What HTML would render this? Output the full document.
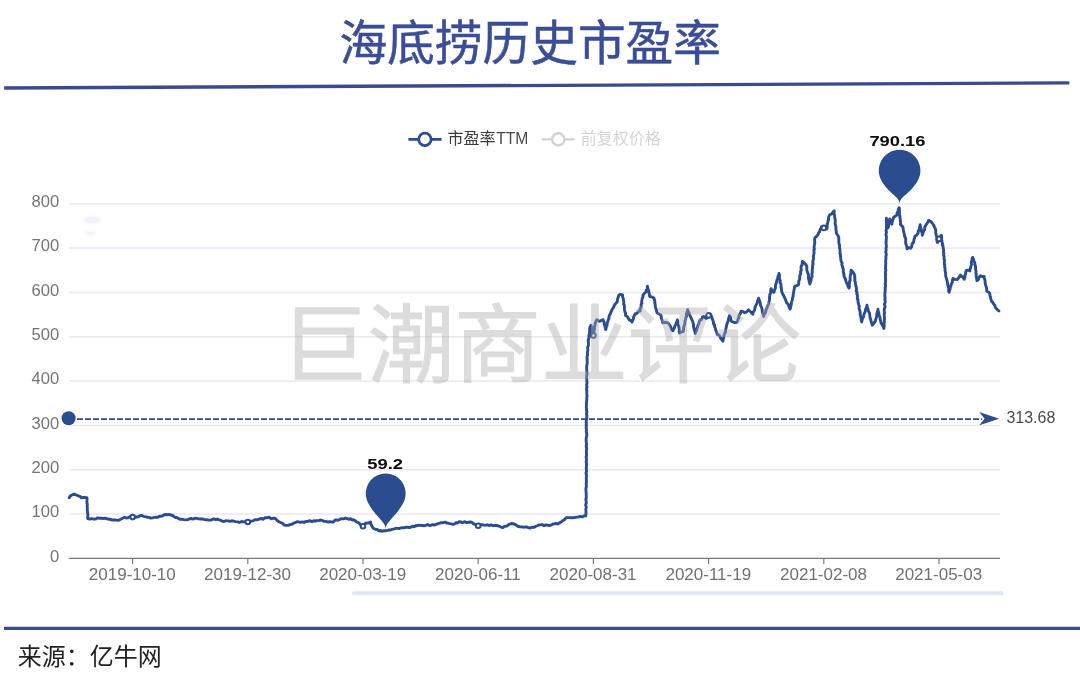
<!DOCTYPE html>
<html lang="zh"><head><meta charset="utf-8"><title>海底捞历史市盈率</title>
<style>html,body{margin:0;padding:0;background:#fff;}body{width:1080px;height:685px;overflow:hidden;font-family:"Liberation Sans",sans-serif;}svg{display:block}</style>
</head><body>
<svg width="1080" height="685" viewBox="0 0 1080 685">
<title>海底捞历史市盈率</title>
<desc>海底捞历史市盈率 市盈率TTM 前复权价格 巨潮商业评论 来源：亿牛网</desc>
<rect width="1080" height="685" fill="#fff"/>
<g opacity="0.999">
<g fill="#3a4d96" stroke="#3a4d96" stroke-width="0.5">
<text x="339.5" y="59.9" font-family="Liberation Sans, Noto Sans CJK SC, sans-serif" font-size="47.7" textLength="381.5" lengthAdjust="spacingAndGlyphs">海底捞历史市盈率</text>
</g>
<line x1="4.1" y1="88" x2="1069.3" y2="82.9" stroke="#3b4a8f" stroke-width="3.4"/>
<line x1="4" y1="628.4" x2="1080" y2="628.4" stroke="#3b4a8f" stroke-width="3.4"/>
<line x1="69" y1="514.1" x2="1000" y2="514.1" stroke="#e7e9f4" stroke-width="1.5"/>
<line x1="69" y1="469.7" x2="1000" y2="469.7" stroke="#e7e9f4" stroke-width="1.5"/>
<line x1="69" y1="425.4" x2="1000" y2="425.4" stroke="#e7e9f4" stroke-width="1.5"/>
<line x1="69" y1="381.1" x2="1000" y2="381.1" stroke="#e7e9f4" stroke-width="1.5"/>
<line x1="69" y1="336.8" x2="1000" y2="336.8" stroke="#e7e9f4" stroke-width="1.5"/>
<line x1="69" y1="292.4" x2="1000" y2="292.4" stroke="#e7e9f4" stroke-width="1.5"/>
<line x1="69" y1="248.1" x2="1000" y2="248.1" stroke="#e7e9f4" stroke-width="1.5"/>
<line x1="69" y1="203.8" x2="1000" y2="203.8" stroke="#e7e9f4" stroke-width="1.5"/>
<line x1="68.8" y1="558.4" x2="1000" y2="558.4" stroke="#767981" stroke-width="1.3"/>
<line x1="132.6" y1="558.4" x2="132.6" y2="563.9" stroke="#767981" stroke-width="1.2"/>
<line x1="247.8" y1="558.4" x2="247.8" y2="563.9" stroke="#767981" stroke-width="1.2"/>
<line x1="363.0" y1="558.4" x2="363.0" y2="563.9" stroke="#767981" stroke-width="1.2"/>
<line x1="478.2" y1="558.4" x2="478.2" y2="563.9" stroke="#767981" stroke-width="1.2"/>
<line x1="593.4" y1="558.4" x2="593.4" y2="563.9" stroke="#767981" stroke-width="1.2"/>
<line x1="708.6" y1="558.4" x2="708.6" y2="563.9" stroke="#767981" stroke-width="1.2"/>
<line x1="823.8" y1="558.4" x2="823.8" y2="563.9" stroke="#767981" stroke-width="1.2"/>
<line x1="939.0" y1="558.4" x2="939.0" y2="563.9" stroke="#767981" stroke-width="1.2"/>
<g font-family="Liberation Sans, sans-serif" font-size="16.6" fill="#757575" text-anchor="end">
<text x="59.2" y="561.7">0</text>
<text x="59.2" y="517.4">100</text>
<text x="59.2" y="473.0">200</text>
<text x="59.2" y="428.7">300</text>
<text x="59.2" y="384.4">400</text>
<text x="59.2" y="340.1">500</text>
<text x="59.2" y="295.7">600</text>
<text x="59.2" y="251.4">700</text>
<text x="59.2" y="207.1">800</text>
</g>
<g font-family="Liberation Sans, sans-serif" font-size="17" fill="#717171" text-anchor="middle">
<text x="132.3" y="580.3">2019-10-10</text>
<text x="247.5" y="580.3">2019-12-30</text>
<text x="362.7" y="580.3">2020-03-19</text>
<text x="477.9" y="580.3">2020-06-11</text>
<text x="593.1" y="580.3">2020-08-31</text>
<text x="708.3" y="580.3">2020-11-19</text>
<text x="823.5" y="580.3">2021-02-08</text>
<text x="938.7" y="580.3">2021-05-03</text>
</g>
<defs><filter id="bl" x="-50%" y="-50%" width="200%" height="200%"><feGaussianBlur stdDeviation="1.6"/></filter></defs>
<ellipse cx="92" cy="220" rx="9" ry="3.5" fill="#eff1f8" filter="url(#bl)"/>
<ellipse cx="90" cy="233" rx="6" ry="1.6" fill="#efefef" filter="url(#bl)"/>
<rect x="352" y="591.3" width="651.5" height="4" rx="2" fill="#dfe7f5"/>
<g stroke="#2b4c8f" stroke-width="2.8" fill="#fff"><line x1="408.4" y1="139.4" x2="441.5" y2="139.4"/><circle cx="424.9" cy="139.4" r="6.2"/></g>
<text x="447.6" y="144.0" font-family="Liberation Sans, Noto Sans CJK SC, sans-serif" font-size="16" fill="#3a3a3a" textLength="48" lengthAdjust="spacingAndGlyphs">市盈率</text>
<text x="496.2" y="144.0" font-family="Liberation Sans, sans-serif" font-size="16.5" fill="#484848" textLength="32.2" lengthAdjust="spacingAndGlyphs">TTM</text>
<g stroke="#d2d2d2" stroke-width="2.4" fill="#fff"><line x1="541.7" y1="139.4" x2="574.7" y2="139.4"/><circle cx="558.3" cy="139.4" r="6.1"/></g>
<text x="580.8" y="144.0" font-family="Liberation Sans, Noto Sans CJK SC, sans-serif" font-size="16" fill="#d4d4d4" textLength="80" lengthAdjust="spacingAndGlyphs">前复权价格</text>
<line x1="69" y1="419.1" x2="982" y2="419.1" stroke="#2b4c8f" stroke-width="1.9" stroke-dasharray="6 2"/>
<circle cx="68.6" cy="418.3" r="7" fill="#2b4c8f"/>
<path d="M999.2 418.7 L979.2 412.1 L984.6 418.7 L979.2 425.3 Z" fill="#2b4c8f"/>
<text x="1006.4" y="422.9" font-family="Liberation Sans, sans-serif" font-size="16" fill="#4a4a4a">313.68</text>
<path d="M69.3 497.8 L70.3 496.0 L71.5 495.2 L73.9 494.0 L76.5 495.0 L78.5 496.0 L80.0 496.3 L81.3 497.8 L84.0 497.4 L86.9 497.8 L87.1 499.4 L86.8 501.4 L87.0 503.1 L87.4 505.0 L87.1 506.1 L87.4 508.8 L87.2 509.7 L87.6 512.4 L87.6 513.3 L87.9 514.5 L87.8 516.5 L87.6 518.5 L89.6 519.0 L91.6 518.6 L94.0 519.2 L95.9 518.9 L98.0 517.8 L99.4 518.2 L101.4 518.2 L103.0 518.6 L104.7 518.1 L106.0 518.5 L108.0 519.0 L109.8 519.2 L111.2 519.8 L113.0 520.0 L115.2 519.9 L117.4 520.4 L119.4 520.0 L121.0 519.0 L122.7 518.2 L124.8 517.2 L126.4 518.0 L128.0 517.8 L129.8 516.8 L131.3 516.3 L134.0 518.0 L136.2 516.8 L137.7 517.1 L139.4 516.0 L141.5 515.4 L143.4 516.3 L146.0 516.8 L147.8 517.3 L149.4 517.4 L150.7 518.1 L152.6 517.9 L154.3 517.4 L156.0 517.2 L157.8 517.4 L159.1 516.5 L160.3 516.2 L162.3 516.1 L163.7 515.0 L165.8 514.5 L167.4 514.8 L169.3 514.4 L170.5 515.0 L172.2 515.3 L174.0 516.5 L175.2 517.5 L176.7 517.5 L178.5 518.5 L180.3 519.4 L181.9 519.2 L184.0 519.6 L185.9 519.9 L188.0 519.6 L189.5 518.7 L191.5 518.5 L193.2 519.1 L195.5 518.2 L196.8 518.4 L198.7 518.9 L200.7 519.0 L202.6 518.9 L204.0 519.4 L206.1 519.8 L208.0 520.0 L210.2 520.1 L211.8 519.8 L213.8 518.8 L215.8 519.6 L217.4 519.0 L219.3 520.0 L220.6 520.1 L222.0 521.1 L223.9 521.5 L225.6 520.8 L227.8 520.9 L230.0 521.3 L231.8 520.8 L233.6 521.1 L235.6 521.6 L237.8 521.9 L239.3 522.5 L241.6 521.5 L243.1 521.9 L245.1 521.6 L247.0 522.2 L249.2 522.4 L251.0 521.2 L253.0 520.8 L255.0 519.7 L257.6 519.7 L259.4 519.0 L261.6 518.5 L262.9 519.2 L265.1 517.7 L267.0 517.8 L269.0 517.2 L270.9 518.7 L273.0 518.4 L274.7 518.2 L276.0 519.1 L277.3 520.7 L279.0 521.8 L280.4 522.5 L282.1 523.1 L284.4 525.1 L286.0 525.4 L288.2 525.4 L290.0 524.6 L292.1 524.2 L293.5 523.2 L295.5 522.5 L297.0 521.7 L298.5 521.9 L300.3 522.4 L302.4 521.9 L304.0 522.5 L305.7 521.5 L307.0 521.6 L308.5 521.0 L310.1 520.8 L312.0 521.6 L313.8 520.8 L315.4 521.0 L316.6 520.6 L318.8 520.6 L320.2 520.0 L322.3 520.4 L323.8 521.3 L326.0 521.4 L327.7 522.0 L330.1 521.7 L331.6 522.0 L333.1 522.1 L334.9 520.4 L336.0 519.9 L338.2 520.2 L339.2 519.7 L341.0 518.7 L342.9 518.9 L344.1 518.8 L345.5 518.0 L347.7 518.9 L349.0 519.3 L350.6 518.7 L352.1 520.0 L353.9 519.8 L355.0 520.7 L356.5 521.9 L358.2 522.5 L359.6 523.7 L361.1 525.6 L363.0 526.3 L364.4 524.6 L366.0 523.0 L368.3 523.1 L370.5 522.0 L371.1 524.6 L371.8 526.0 L373.3 528.2 L375.2 529.2 L377.1 529.4 L379.0 531.0 L380.6 530.5 L382.0 531.3 L383.8 530.7 L385.7 530.7 L387.6 530.4 L389.0 530.0 L390.8 530.0 L392.2 529.3 L394.2 528.8 L395.7 528.3 L397.6 528.4 L399.1 528.5 L401.0 527.9 L402.4 527.7 L404.0 527.8 L405.6 527.3 L407.3 527.1 L409.0 527.5 L410.8 527.2 L412.7 526.1 L414.1 526.9 L416.0 525.5 L417.2 525.7 L418.8 525.2 L420.8 525.4 L422.2 525.5 L424.4 525.7 L425.6 525.4 L427.7 524.5 L429.5 525.5 L430.7 525.4 L432.6 524.6 L434.7 525.0 L436.0 524.4 L437.6 523.8 L439.8 523.2 L441.4 522.7 L443.5 522.5 L445.2 522.1 L446.7 523.0 L447.9 523.1 L449.9 523.6 L451.4 523.9 L452.7 524.3 L454.8 523.9 L455.9 522.6 L457.4 523.0 L459.2 521.8 L460.9 522.0 L462.7 522.6 L464.9 521.7 L466.4 522.6 L468.5 522.3 L470.4 522.0 L471.9 522.4 L474.0 524.0 L476.1 524.8 L478.0 525.8 L479.7 525.8 L482.0 524.6 L483.9 525.1 L485.3 525.2 L487.4 524.8 L489.0 525.5 L491.2 524.9 L493.1 525.8 L495.0 525.4 L496.7 525.5 L498.8 526.2 L500.4 526.7 L502.6 527.7 L504.5 526.4 L507.0 526.0 L508.3 524.9 L510.0 524.0 L511.2 523.5 L512.9 523.7 L514.4 524.2 L516.0 524.9 L517.8 526.3 L520.0 526.7 L521.7 526.9 L524.0 527.2 L526.1 526.8 L527.7 527.4 L529.2 528.0 L531.0 527.7 L532.5 527.2 L534.2 527.3 L535.5 526.5 L537.3 525.7 L538.7 525.0 L540.5 524.9 L542.2 524.6 L544.1 525.6 L546.1 524.8 L548.2 525.4 L549.5 525.5 L551.7 524.9 L552.9 524.0 L554.5 523.9 L556.0 523.5 L557.7 523.9 L559.5 522.9 L561.6 521.8 L563.0 520.5 L564.4 519.8 L566.2 517.8 L567.7 517.6 L569.2 517.6 L571.1 517.8 L572.8 517.8 L574.5 517.6 L576.3 517.1 L578.2 517.1 L580.1 516.4 L582.3 516.9 L583.9 516.0 L585.8 515.9 L585.9 514.3 L586.0 512.9 L586.0 511.5 L585.8 509.1 L586.3 507.3 L586.1 506.3 L585.6 504.9 L586.3 503.0 L586.2 501.7 L585.8 499.6 L586.1 498.4 L586.3 496.8 L586.2 495.2 L586.2 493.3 L586.0 490.8 L585.9 489.6 L585.9 488.6 L586.3 486.7 L586.3 485.1 L586.2 482.6 L586.5 482.0 L586.3 480.0 L586.3 478.4 L586.4 476.1 L586.5 474.8 L586.0 473.2 L586.5 471.5 L586.5 470.9 L586.3 468.5 L586.3 467.3 L586.5 465.6 L586.5 463.2 L586.1 461.8 L586.5 460.3 L586.4 458.2 L586.1 457.0 L586.5 455.9 L586.5 453.8 L586.4 452.4 L586.4 450.3 L586.7 448.8 L586.7 448.2 L586.1 445.9 L586.6 445.0 L586.4 442.4 L586.2 441.7 L586.2 439.6 L586.2 437.9 L586.8 435.7 L586.7 434.6 L586.7 433.3 L586.3 431.9 L586.5 429.1 L586.1 428.1 L586.4 426.2 L586.2 424.6 L586.4 423.7 L586.1 422.0 L586.5 420.0 L586.7 417.9 L586.8 417.1 L586.8 414.9 L586.4 413.4 L586.9 412.1 L586.5 410.2 L586.4 408.1 L586.3 407.6 L586.4 406.1 L586.4 403.5 L586.6 401.8 L586.5 401.3 L586.9 399.5 L586.7 398.0 L587.0 395.9 L586.8 393.6 L586.8 392.5 L586.9 391.2 L586.5 388.7 L587.0 387.2 L586.7 385.9 L586.6 384.9 L587.1 382.6 L586.8 381.0 L586.8 379.5 L586.5 377.6 L586.6 377.0 L586.8 374.4 L587.1 373.9 L586.8 371.1 L586.8 370.0 L586.6 367.8 L586.8 366.2 L586.8 364.8 L587.1 364.0 L587.3 361.7 L587.1 360.2 L587.2 358.3 L587.0 356.6 L587.7 354.7 L587.4 353.8 L587.5 352.0 L587.9 349.9 L587.6 348.2 L587.8 346.8 L588.4 345.7 L588.4 342.8 L588.3 341.8 L588.2 340.3 L588.9 338.2 L588.9 335.7 L589.0 335.2 L589.5 333.3 L589.7 330.6 L589.6 329.2 L590.0 326.8 L591.0 325.3 L591.4 327.3 L592.1 329.2 L592.4 331.0 L592.6 332.5 L592.8 334.6 L593.5 336.0 L593.5 334.9 L594.0 332.4 L593.9 330.6 L594.5 329.6 L594.3 327.0 L594.8 326.1 L595.0 324.3 L595.6 322.4 L596.3 320.5 L596.9 319.7 L599.5 321.4 L601.2 320.5 L603.1 319.7 L603.9 321.6 L604.2 323.0 L604.2 324.3 L605.2 326.6 L605.1 327.3 L605.7 329.6 L606.1 328.3 L606.5 326.1 L607.1 325.5 L607.2 322.7 L607.6 321.7 L608.3 319.8 L608.8 319.0 L609.0 316.7 L609.4 315.5 L610.5 313.6 L611.1 311.8 L611.5 310.9 L612.4 308.9 L613.3 307.9 L614.5 305.2 L615.4 303.9 L616.7 302.4 L617.4 301.2 L617.6 298.6 L618.1 297.5 L618.9 295.0 L620.5 294.4 L622.6 295.0 L622.5 296.6 L623.4 299.0 L623.5 300.8 L623.9 301.6 L623.6 304.2 L624.2 304.6 L624.4 306.8 L624.4 308.4 L624.5 309.7 L624.9 311.9 L625.6 313.3 L625.5 315.5 L627.3 316.5 L628.4 318.4 L629.5 320.1 L631.1 320.7 L632.1 322.0 L632.4 320.4 L633.2 319.4 L633.6 317.0 L634.7 314.9 L635.0 314.0 L636.6 313.5 L638.6 311.4 L640.1 311.1 L640.1 308.9 L641.0 307.5 L641.1 306.8 L641.1 304.3 L641.9 303.2 L641.7 301.7 L642.0 299.5 L642.1 298.6 L643.0 296.8 L643.0 295.0 L644.8 292.9 L646.0 292.1 L646.3 290.1 L647.3 288.9 L647.4 286.3 L647.7 287.7 L648.1 289.7 L648.8 291.0 L649.1 293.4 L649.5 295.2 L649.6 296.5 L651.9 297.0 L654.0 298.0 L654.2 299.4 L654.8 300.7 L654.8 303.2 L655.1 303.9 L655.3 306.2 L655.8 308.4 L656.5 310.0 L656.4 310.4 L656.9 312.6 L658.5 313.7 L660.6 314.8 L661.2 316.3 L661.3 317.9 L662.0 319.8 L662.5 321.7 L662.8 322.8 L664.6 322.3 L666.4 322.5 L667.9 322.8 L669.0 324.2 L670.1 325.6 L670.8 327.2 L671.7 329.7 L673.0 330.8 L673.7 329.0 L674.2 328.4 L674.9 325.8 L675.7 324.8 L676.5 322.5 L676.8 321.9 L677.4 319.9 L677.9 322.1 L677.6 322.9 L678.0 324.4 L678.8 326.6 L679.1 327.9 L679.3 329.7 L679.2 331.8 L679.6 333.0 L681.7 331.7 L683.2 331.6 L683.6 330.1 L683.7 328.0 L684.0 326.1 L684.4 325.0 L685.0 322.8 L684.9 321.3 L685.7 319.4 L685.8 317.7 L686.5 316.5 L686.3 314.2 L686.8 313.1 L687.4 310.8 L687.6 309.7 L688.1 311.6 L689.0 312.7 L689.7 315.3 L690.4 316.5 L691.1 317.9 L692.2 320.4 L692.7 321.4 L693.0 322.7 L693.6 324.4 L693.5 327.1 L694.1 328.8 L694.5 330.6 L694.9 331.3 L695.3 333.5 L695.6 331.9 L696.6 330.7 L696.8 328.6 L697.6 326.8 L698.1 324.8 L698.9 324.0 L699.2 321.7 L700.1 320.0 L701.6 319.5 L702.4 317.1 L703.9 316.4 L706.0 318.6 L707.5 317.7 L708.4 315.5 L710.4 314.2 L710.9 315.2 L711.8 317.2 L712.3 319.1 L712.8 320.1 L713.4 321.7 L713.6 324.2 L714.5 324.8 L714.6 326.7 L715.4 328.3 L715.6 329.7 L716.6 332.2 L717.0 333.2 L717.6 334.6 L719.1 335.2 L720.1 336.7 L720.9 338.6 L721.9 339.6 L722.8 341.2 L723.2 339.7 L723.6 338.2 L724.0 336.3 L724.1 335.0 L724.9 332.9 L725.5 332.0 L725.7 329.6 L726.1 327.9 L726.3 326.8 L726.6 325.2 L727.3 323.0 L727.8 321.5 L728.3 320.9 L728.6 318.3 L729.0 317.1 L729.4 315.7 L730.4 317.1 L731.1 320.3 L731.6 321.5 L733.5 322.2 L734.8 322.7 L736.7 322.3 L737.3 321.4 L738.2 318.7 L738.8 318.2 L738.9 315.8 L740.0 314.0 L740.7 312.6 L741.1 311.3 L743.1 311.6 L744.7 312.8 L746.6 311.9 L748.4 309.9 L749.7 311.0 L751.3 312.5 L752.8 314.2 L753.1 312.2 L753.7 311.6 L754.7 310.0 L754.9 308.2 L755.4 306.2 L756.4 304.4 L757.1 303.1 L757.5 301.9 L757.7 300.5 L758.6 298.2 L759.2 299.7 L759.7 301.2 L760.3 303.3 L760.4 305.2 L760.9 306.0 L761.6 307.5 L762.1 309.4 L762.4 312.1 L762.8 313.3 L763.1 314.0 L763.7 316.4 L764.0 314.4 L765.1 313.2 L765.6 312.3 L766.0 309.8 L767.0 308.0 L767.2 306.9 L767.9 305.4 L768.8 304.0 L768.9 302.4 L769.4 300.2 L769.6 298.9 L769.5 297.8 L769.8 295.0 L770.0 294.0 L770.8 292.5 L770.7 290.1 L771.0 288.7 L772.1 290.7 L773.9 292.3 L774.4 290.5 L774.9 289.1 L775.5 287.9 L775.4 286.6 L775.7 284.5 L776.4 282.5 L776.6 281.7 L777.0 279.8 L778.0 277.6 L777.9 276.7 L778.6 275.2 L779.0 273.4 L779.5 274.7 L779.4 276.6 L779.5 279.1 L780.3 280.6 L780.0 282.5 L780.8 283.7 L781.1 285.4 L781.0 286.6 L781.3 288.2 L781.6 290.9 L782.0 292.3 L782.9 294.5 L783.7 295.5 L784.4 297.4 L785.4 299.3 L786.0 301.0 L786.6 302.8 L787.9 303.8 L788.7 305.2 L789.0 307.1 L790.0 309.1 L790.5 308.1 L790.9 305.6 L791.4 303.9 L791.3 303.1 L791.9 301.1 L792.3 299.9 L792.5 298.0 L793.1 296.4 L793.2 294.6 L793.7 292.3 L793.8 291.1 L794.1 289.9 L794.5 287.0 L795.1 286.0 L796.6 285.9 L798.6 284.5 L798.8 282.3 L798.8 280.6 L799.5 279.7 L799.8 278.2 L799.7 276.4 L800.1 275.0 L800.7 273.5 L800.5 271.8 L801.3 270.3 L801.0 267.6 L801.3 265.7 L802.1 265.1 L802.2 263.5 L802.4 261.4 L803.8 262.4 L804.7 263.4 L806.3 265.2 L806.8 266.4 L806.8 268.2 L806.8 269.6 L807.3 271.8 L807.7 272.8 L808.4 274.7 L808.6 276.4 L808.3 277.7 L808.9 279.8 L809.1 281.2 L809.5 282.1 L809.8 284.1 L810.6 281.8 L811.1 280.1 L811.0 278.4 L811.9 277.0 L812.2 276.0 L811.8 273.7 L812.3 272.5 L812.2 270.4 L812.4 269.3 L812.5 267.8 L812.7 265.1 L813.1 263.9 L812.8 262.4 L812.9 261.0 L813.5 259.3 L813.5 257.1 L813.5 255.5 L814.0 253.4 L814.1 251.7 L813.8 250.4 L814.4 249.1 L814.1 248.0 L814.2 245.8 L814.5 244.5 L814.8 242.7 L814.6 240.6 L814.6 239.7 L815.0 237.6 L816.8 236.2 L818.3 234.2 L818.7 232.6 L819.8 231.4 L820.0 229.7 L821.1 227.9 L821.5 226.8 L823.6 227.8 L825.0 228.1 L826.8 228.9 L827.2 227.8 L827.1 225.2 L827.4 223.9 L827.9 222.1 L828.0 220.5 L828.7 219.7 L828.4 218.4 L828.9 216.2 L829.9 214.7 L831.9 214.0 L833.0 212.1 L834.2 210.9 L834.1 212.8 L834.2 213.9 L834.6 215.4 L834.8 218.1 L835.1 219.4 L835.3 221.1 L835.1 223.0 L835.4 224.9 L835.9 226.2 L835.9 228.3 L835.9 229.3 L836.3 231.9 L836.3 233.1 L837.5 235.0 L838.4 236.3 L838.8 238.2 L838.8 239.6 L838.8 241.5 L838.8 242.9 L839.5 245.0 L839.5 246.0 L839.6 248.0 L839.9 249.6 L840.1 252.0 L839.9 253.3 L840.5 254.6 L840.5 256.4 L840.8 258.7 L840.8 259.7 L841.2 261.7 L842.1 262.9 L841.8 264.7 L842.5 266.5 L842.8 268.0 L843.3 269.5 L843.3 271.7 L843.5 273.0 L844.0 274.7 L844.1 276.6 L844.7 277.6 L845.2 278.5 L845.8 280.5 L846.2 282.0 L847.1 283.9 L847.7 284.8 L848.2 286.9 L849.0 288.1 L849.5 286.5 L849.2 285.2 L849.5 282.8 L849.5 281.9 L850.2 280.1 L850.1 278.4 L850.1 277.3 L850.4 275.2 L850.9 273.8 L850.9 271.4 L851.1 270.1 L852.2 271.0 L853.5 272.8 L854.3 274.4 L854.8 275.7 L854.7 277.2 L854.9 278.7 L854.8 281.1 L855.3 282.0 L855.5 283.9 L855.8 285.7 L856.2 286.9 L856.6 289.2 L856.2 290.7 L857.0 292.2 L856.7 293.9 L857.3 294.3 L857.4 296.6 L857.3 298.8 L858.0 299.4 L857.9 300.9 L858.3 303.3 L858.6 304.1 L859.3 306.5 L859.0 308.3 L859.6 309.7 L859.9 311.4 L860.3 312.9 L860.1 314.3 L860.6 316.0 L860.9 317.8 L861.2 318.5 L861.2 319.9 L861.7 322.0 L862.2 319.8 L862.6 318.4 L863.1 317.4 L863.7 316.4 L863.8 314.8 L864.6 312.9 L865.2 311.7 L865.5 309.6 L866.4 307.6 L866.6 306.8 L867.0 305.1 L867.1 306.9 L868.0 309.1 L868.2 310.8 L868.8 311.8 L869.5 312.8 L869.8 315.3 L870.0 317.3 L870.4 318.5 L871.0 320.6 L871.2 321.8 L871.8 323.6 L872.3 325.2 L873.6 323.5 L874.6 322.3 L875.4 321.0 L875.8 319.0 L876.1 318.3 L876.6 316.4 L876.8 314.1 L877.1 312.8 L877.7 311.4 L878.0 309.3 L878.0 311.2 L878.9 312.5 L878.7 313.8 L879.0 315.2 L880.0 317.4 L880.1 319.2 L880.6 320.6 L880.7 322.0 L881.6 323.8 L882.4 325.3 L883.2 326.4 L883.9 328.4 L884.1 326.7 L884.2 324.6 L883.9 323.0 L884.3 322.6 L884.3 320.2 L884.5 319.2 L884.4 316.9 L884.2 315.5 L884.3 313.9 L884.6 313.0 L884.2 310.9 L884.3 308.7 L884.9 307.7 L885.0 305.9 L884.4 304.2 L884.9 303.4 L885.2 301.2 L884.9 299.0 L885.1 297.6 L884.8 295.7 L884.8 295.1 L884.9 293.9 L885.0 292.1 L885.3 290.0 L885.1 287.7 L885.5 286.4 L885.6 284.7 L885.1 283.9 L885.6 282.4 L885.6 279.7 L885.6 279.0 L885.5 277.7 L885.4 276.1 L885.7 273.2 L885.3 272.5 L885.9 270.1 L885.5 269.4 L885.5 267.9 L885.7 265.2 L885.7 264.3 L885.8 262.8 L885.6 261.4 L885.8 259.6 L886.0 257.6 L885.8 256.5 L886.3 254.9 L886.0 252.6 L885.7 252.0 L886.2 250.1 L885.9 248.2 L886.4 246.9 L886.2 244.6 L886.1 243.8 L886.1 241.9 L886.2 240.0 L886.3 238.9 L886.4 236.4 L885.9 234.7 L886.2 233.4 L886.5 232.2 L886.0 230.5 L886.5 228.8 L886.4 226.3 L886.6 225.4 L886.5 223.9 L886.3 221.1 L886.4 220.4 L886.4 218.3 L886.5 220.2 L887.3 221.1 L887.3 223.3 L887.5 224.2 L887.6 226.6 L888.1 227.8 L888.6 226.0 L888.5 224.7 L889.3 222.1 L889.4 221.3 L889.7 219.0 L890.7 220.8 L891.1 222.6 L891.8 224.2 L892.1 222.0 L892.5 221.0 L893.1 219.0 L893.7 217.2 L895.2 216.2 L896.9 215.1 L897.2 212.6 L898.3 211.2 L898.2 209.7 L899.0 207.7 L899.4 208.9 L899.4 210.9 L899.5 212.1 L899.3 215.1 L900.0 216.1 L899.9 217.5 L900.2 219.4 L900.5 221.6 L900.6 223.6 L900.5 224.6 L902.8 226.7 L903.0 227.8 L903.3 229.8 L903.6 231.4 L904.3 234.3 L904.6 236.2 L905.0 237.3 L905.6 238.3 L905.7 240.5 L905.6 242.9 L906.0 244.0 L906.6 246.2 L906.9 247.1 L907.1 248.9 L908.6 247.7 L910.5 248.2 L911.7 246.8 L912.0 244.4 L912.6 243.1 L913.6 242.1 L914.1 239.1 L914.6 238.3 L914.9 236.2 L916.6 235.3 L918.1 233.1 L918.2 230.9 L919.1 230.3 L919.5 227.7 L919.8 226.7 L920.2 224.6 L920.3 226.1 L920.7 227.6 L921.2 229.4 L921.4 231.2 L922.1 232.8 L922.3 235.2 L923.0 233.2 L923.0 232.6 L923.7 231.1 L924.7 229.4 L924.7 227.2 L925.5 225.7 L926.3 224.5 L927.8 222.3 L928.6 220.4 L930.2 221.2 L931.8 222.5 L932.9 224.0 L933.7 225.1 L934.3 226.6 L935.4 228.8 L935.8 230.6 L935.7 232.8 L936.0 233.9 L936.2 235.4 L937.0 237.2 L936.7 239.1 L937.1 241.4 L937.5 242.6 L938.1 241.2 L939.2 238.4 L939.9 237.4 L941.3 235.2 L941.6 236.5 L941.7 238.3 L941.8 239.9 L942.1 242.6 L942.7 244.2 L942.3 245.0 L943.1 246.4 L943.2 248.4 L943.6 249.7 L943.5 252.1 L943.9 253.5 L943.5 254.7 L944.2 257.1 L943.9 258.7 L944.5 260.0 L944.4 261.6 L944.3 264.1 L944.8 265.0 L944.6 266.5 L945.1 268.7 L945.0 270.0 L945.4 272.4 L945.7 273.9 L945.6 275.4 L945.8 276.5 L946.5 278.7 L946.8 279.8 L947.3 281.9 L947.6 284.4 L947.8 284.9 L948.4 287.2 L948.7 288.6 L948.6 291.1 L949.2 292.3 L949.6 290.1 L950.1 289.0 L950.3 287.2 L951.1 285.4 L951.3 284.0 L952.3 282.5 L952.4 280.5 L953.0 278.5 L955.0 279.4 L957.2 279.6 L958.0 278.6 L959.7 276.5 L960.4 275.0 L961.7 276.4 L963.0 277.1 L964.2 279.2 L965.0 277.0 L965.0 275.0 L965.5 274.2 L965.9 271.4 L966.7 270.1 L968.4 270.2 L969.9 271.1 L969.9 269.5 L970.6 267.7 L971.1 265.4 L971.5 264.6 L971.3 262.0 L971.9 260.8 L972.1 258.6 L972.6 257.4 L973.3 258.7 L974.1 261.4 L974.8 262.7 L974.7 264.4 L975.4 265.5 L975.6 268.2 L975.5 269.1 L976.0 270.9 L975.9 273.1 L976.3 273.9 L976.1 275.6 L976.5 278.1 L976.9 279.6 L976.9 280.7 L978.3 279.6 L979.0 277.5 L980.5 275.8 L982.6 276.7 L984.1 276.4 L984.2 277.9 L984.8 279.5 L985.0 280.7 L985.3 283.0 L985.3 284.1 L986.2 286.7 L986.5 288.1 L986.7 290.1 L986.8 291.2 L988.9 292.3 L989.7 293.5 L990.0 295.7 L990.6 297.5 L991.0 299.7 L991.9 301.8 L992.8 302.3 L993.6 304.0 L994.8 305.3 L995.3 307.1 L996.4 308.6 L997.4 309.8 L998.9 310.9" fill="none" stroke="#2b4c8f" stroke-width="2.9" stroke-linejoin="round" stroke-linecap="round"/>
<circle cx="132.6" cy="517.1" r="2.3" fill="#fff" stroke="#2b4c8f" stroke-width="2"/>
<circle cx="247.8" cy="522.0" r="2.3" fill="#fff" stroke="#2b4c8f" stroke-width="2"/>
<circle cx="363.0" cy="526.3" r="2.3" fill="#fff" stroke="#2b4c8f" stroke-width="2"/>
<circle cx="478.2" cy="525.7" r="2.3" fill="#fff" stroke="#2b4c8f" stroke-width="2"/>
<circle cx="593.4" cy="335.6" r="2.3" fill="#fff" stroke="#2b4c8f" stroke-width="2"/>
<circle cx="708.6" cy="315.4" r="2.3" fill="#fff" stroke="#2b4c8f" stroke-width="2"/>
<circle cx="823.8" cy="227.9" r="2.3" fill="#fff" stroke="#2b4c8f" stroke-width="2"/>
<circle cx="939.0" cy="238.9" r="2.3" fill="#fff" stroke="#2b4c8f" stroke-width="2"/>
<path d="M367.91 502.42 A19.9 19.9 0 1 1 403.49 502.42 C396.80 515.76 385.70 521.44 385.70 529.00 C385.70 521.44 374.60 515.76 367.91 502.42 Z" fill="#2b4c8f"/>
<path d="M881.35 180.57 A20.8 20.8 0 1 1 917.85 180.57 C910.37 194.26 899.60 196.10 899.60 204.00 C899.60 196.10 888.83 194.26 881.35 180.57 Z" fill="#2b4c8f"/>
<g font-family="Liberation Sans, sans-serif" font-weight="bold" font-size="15.4" fill="#0c0c0c" text-anchor="middle">
<text x="385.1" y="468.8" textLength="35.8" lengthAdjust="spacingAndGlyphs">59.2</text>
<text x="897.4" y="145.8" textLength="56.0" lengthAdjust="spacingAndGlyphs">790.16</text>
</g>
<g opacity="0.41" fill="#aaa" stroke="#aaa" stroke-width="1.0" stroke-linejoin="round">
<text x="281" y="376.2" font-family="Liberation Sans, Noto Sans CJK SC, sans-serif" font-size="86" textLength="520" lengthAdjust="spacingAndGlyphs">巨潮商业评论</text>
</g>
<text x="17.8" y="664.5" font-family="Liberation Sans, Noto Sans CJK SC, sans-serif" font-size="24" fill="#222" textLength="144" lengthAdjust="spacingAndGlyphs">来源：亿牛网</text>
</g>
</svg>
</body></html>
